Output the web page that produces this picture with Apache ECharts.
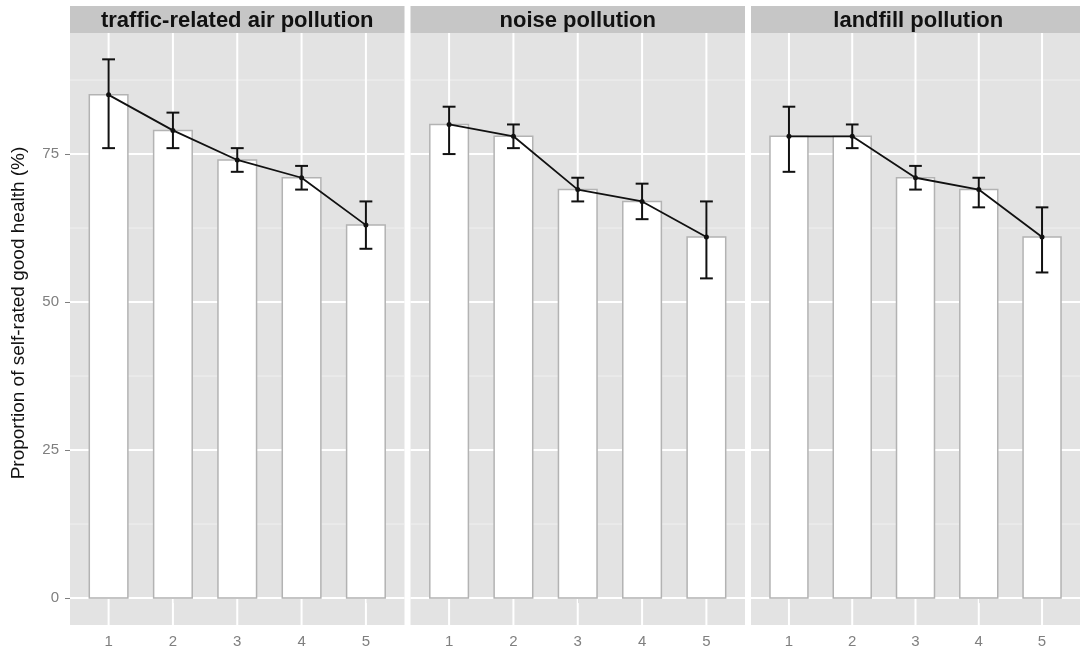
<!DOCTYPE html>
<html>
<head>
<meta charset="utf-8">
<script src="https://cdn.jsdelivr.net/npm/echarts@6/dist/echarts.min.js"></script>
<style>
html,body{margin:0;padding:0;background:#fff;}
#chart{width:1080px;height:655px;}
</style>
</head>
<body>
<div id="chart"></div>
<script>
// ---- data ----
var panelNames = ['traffic-related air pollution', 'noise pollution', 'landfill pollution'];
var categories = [1, 2, 3, 4, 5];
var trafficMean = [85, 79, 74, 71, 63];
var trafficLow  = [76, 76, 72, 69, 59];
var trafficHigh = [91, 82, 76, 73, 67];
var noiseMean = [80, 78, 69, 67, 61];
var noiseLow  = [75, 76, 67, 64, 54];
var noiseHigh = [83, 80, 71, 70, 67];
var landfillMean = [78, 78, 71, 69, 61];
var landfillLow  = [72, 76, 69, 66, 55];
var landfillHigh = [83, 80, 73, 71, 66];
var yTicks = [0, 25, 50, 75];
var yMinor = [12.5, 37.5, 62.5, 87.5];
var yTitle = 'Proportion of self-rated good health (%)';

var panels = [
  {mean: trafficMean, low: trafficLow, high: trafficHigh},
  {mean: noiseMean, low: noiseLow, high: noiseHigh},
  {mean: landfillMean, low: landfillLow, high: landfillHigh}
];

// ---- layout ----
var FONT = 'Liberation Sans, Arial, Helvetica, sans-serif';
var panelLeft = [70, 410.5, 751];
var panelWidth = 334.5;
var panelTop = 33, panelHeight = 592;
var stripTop = 6, stripHeight = 27;
var X_MIN = 0.4, X_MAX = 5.6, Y_MIN = -4.55, Y_MAX = 95.45;

var grids = [], xAxes = [], yAxes = [], series = [], graphics = [];

panels.forEach(function (p, i) {
  grids.push({
    left: panelLeft[i], top: panelTop, width: panelWidth, height: panelHeight,
    show: true, backgroundColor: '#E3E3E3', borderWidth: 0, containLabel: false
  });
  xAxes.push({
    type: 'value', gridIndex: i, min: X_MIN, max: X_MAX,
    axisLine: {show: false}, splitLine: {show: false},
    axisTick: {show: true, customValues: categories, length: 5, lineStyle: {color: '#7F7F7F', width: 1}},
    axisLabel: {show: true, customValues: categories, color: '#7F7F7F', fontSize: 15, fontFamily: FONT, margin: 9}
  });
  yAxes.push({
    type: 'value', gridIndex: i, min: Y_MIN, max: Y_MAX,
    axisLine: {show: false}, splitLine: {show: false},
    axisTick: {show: i === 0, customValues: yTicks, length: 5, lineStyle: {color: '#7F7F7F', width: 1}},
    axisLabel: {show: i === 0, customValues: yTicks, color: '#7F7F7F', fontSize: 15, fontFamily: FONT, margin: 11}
  });

  // minor horizontal grid
  series.push({
    type: 'custom', xAxisIndex: i, yAxisIndex: i, z: 1, silent: true,
    data: yMinor.map(function (v) { return [v]; }),
    encode: {y: 0},
    renderItem: function (params, api) {
      var v = api.value(0);
      var a = api.coord([X_MIN, v]), b = api.coord([X_MAX, v]);
      return {type: 'line', shape: {x1: a[0], y1: a[1], x2: b[0], y2: b[1]},
        style: {stroke: '#F0F0F0', lineWidth: 1}};
    }
  });
  // major horizontal grid
  series.push({
    type: 'custom', xAxisIndex: i, yAxisIndex: i, z: 1, silent: true,
    data: yTicks.map(function (v) { return [v]; }),
    encode: {y: 0},
    renderItem: function (params, api) {
      var v = api.value(0);
      var a = api.coord([X_MIN, v]), b = api.coord([X_MAX, v]);
      return {type: 'line', shape: {x1: a[0], y1: a[1], x2: b[0], y2: b[1]},
        style: {stroke: '#FFFFFF', lineWidth: 2}};
    }
  });
  // vertical grid
  series.push({
    type: 'custom', xAxisIndex: i, yAxisIndex: i, z: 1, silent: true,
    data: categories.map(function (c) { return [c]; }),
    encode: {x: 0},
    renderItem: function (params, api) {
      var c = api.value(0);
      var a = api.coord([c, Y_MIN]), b = api.coord([c, Y_MAX]);
      return {type: 'line', shape: {x1: a[0], y1: a[1], x2: b[0], y2: b[1]},
        style: {stroke: '#FFFFFF', lineWidth: 2}};
    }
  });
  // bars
  series.push({
    type: 'custom', xAxisIndex: i, yAxisIndex: i, z: 2, silent: true,
    data: categories.map(function (c, k) { return [c, p.mean[k]]; }),
    encode: {x: 0, y: 1},
    renderItem: function (params, api) {
      var c = api.value(0), v = api.value(1);
      var tl = api.coord([c - 0.3, v]), br = api.coord([c + 0.3, 0]);
      return {type: 'rect',
        shape: {x: tl[0], y: tl[1], width: br[0] - tl[0], height: br[1] - tl[1]},
        style: {fill: '#FFFFFF', stroke: '#B3B3B3', lineWidth: 1.5}};
    }
  });
  // error bars
  series.push({
    type: 'custom', xAxisIndex: i, yAxisIndex: i, z: 3, silent: true,
    data: categories.map(function (c, k) { return [c, p.low[k], p.high[k]]; }),
    encode: {x: 0, y: [1, 2]},
    renderItem: function (params, api) {
      var c = api.value(0), lo = api.value(1), hi = api.value(2);
      var pl = api.coord([c, lo]), ph = api.coord([c, hi]);
      var l1 = api.coord([c - 0.1, lo]), r1 = api.coord([c + 0.1, lo]);
      var l2 = api.coord([c - 0.1, hi]), r2 = api.coord([c + 0.1, hi]);
      var st = {stroke: '#111111', lineWidth: 2};
      return {type: 'group', children: [
        {type: 'line', shape: {x1: pl[0], y1: pl[1], x2: ph[0], y2: ph[1]}, style: st},
        {type: 'line', shape: {x1: l1[0], y1: l1[1], x2: r1[0], y2: r1[1]}, style: st},
        {type: 'line', shape: {x1: l2[0], y1: l2[1], x2: r2[0], y2: r2[1]}, style: st}
      ]};
    }
  });
  // line + points
  series.push({
    type: 'line', xAxisIndex: i, yAxisIndex: i, z: 4, silent: true,
    data: categories.map(function (c, k) { return [c, p.mean[k]]; }),
    symbol: 'circle', symbolSize: 5, showSymbol: true,
    lineStyle: {color: '#111111', width: 1.8},
    itemStyle: {color: '#111111'},
    animation: false
  });

  // strip
  graphics.push({
    type: 'rect', left: panelLeft[i], top: stripTop,
    shape: {width: panelWidth, height: stripHeight},
    style: {fill: '#C6C6C6'}, silent: true
  });
  graphics.push({
    type: 'text', x: panelLeft[i] + panelWidth / 2, y: stripTop + stripHeight / 2 + 1,
    style: {text: panelNames[i], fill: '#111111', font: 'bold 22px ' + FONT,
      textAlign: 'center', textVerticalAlign: 'middle'}, silent: true
  });
});

graphics.push({
  type: 'text', x: 19, y: 313, rotation: Math.PI / 2,
  style: {text: yTitle, fill: '#111111', font: '19px ' + FONT,
    textAlign: 'center', textVerticalAlign: 'middle'}, silent: true
});

var chart = echarts.init(document.getElementById('chart'), null, {renderer: 'canvas'});
chart.setOption({
  animation: false,
  backgroundColor: '#FFFFFF',
  grid: grids, xAxis: xAxes, yAxis: yAxes, series: series, graphic: graphics
});
</script>
</body>
</html>
